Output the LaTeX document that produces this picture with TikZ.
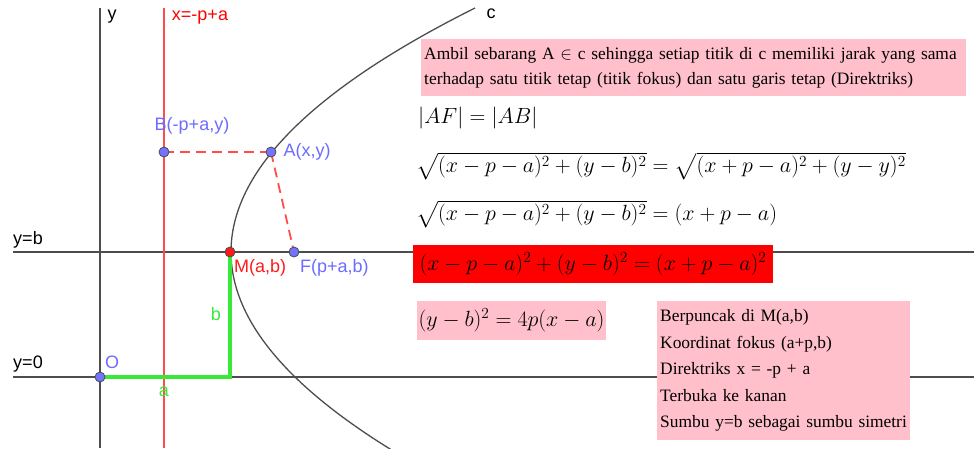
\documentclass[tikz,border=0pt]{standalone}
\usepackage{fix-cm}
\usepackage{amsmath}
\usepackage{amssymb}
\usepackage{fontspec}
\setmainfont{Liberation Serif}
\newfontfamily\labelfont{Liberation Sans}
\usepackage{xcolor}
\definecolor{axisgray}{HTML}{4d4d4d}
\definecolor{dirred}{HTML}{ff4d4d}
\definecolor{ptblue}{HTML}{7373ff}
\definecolor{lblblue}{HTML}{6b6bff}
\definecolor{boxpink}{HTML}{ffc0cb}
\definecolor{segreen}{HTML}{3ae83a}
\definecolor{vertexred}{HTML}{ff1a1a}
\usetikzlibrary{positioning, calc}

\begin{document}
\begin{tikzpicture}[x=1pt, y=-1pt,
  axis/.style={axisgray, line width=1.6pt},
  pt/.style={circle, draw=black!70, line width=0.8pt, inner sep=0pt, minimum size=10pt},
  lbl/.style={font=\labelfont\fontsize{18}{20}\selectfont, inner sep=1pt},
  pinkbox/.style={fill=boxpink, inner xsep=3pt, inner ysep=5pt, align=left},
  eq/.style={font=\fontsize{22}{26}\selectfont, inner sep=2pt},
  dist/.style={dirred, line width=1.8pt, dash pattern=on 10pt off 6pt}
]
\useasboundingbox (0,0) rectangle (974,448);

% Points
\coordinate (o) at (100,377);
\coordinate (m) at (230,252);
\coordinate (f) at (294,252);
\coordinate (a) at (271,152);
\coordinate (b) at (164,152);
\coordinate (k) at (230,377);

% Axes and lines
\draw[axis] (100,8) -- (100,448);
\draw[axis] (13,252) -- (974,252);
\draw[axis] (13,377) -- (974,377);
\draw[dirred, line width=1.6pt] (164,8) -- (164,448);
\draw[axisgray, line width=1.3pt] plot[domain=-1:0.81, samples=120, smooth] ({231+244*\x*\x},{252+244*\x});

% Distances
\draw[dist] (b) -- (a);
\draw[dist] (a) -- (f);
\draw[segreen, line width=4pt] (o) -- (k) -- (m);

\node[pt, fill=ptblue] (O) at (o) {};
\node[pt, fill=vertexred] (M) at (m) {};
\node[pt, fill=ptblue] (F) at (f) {};
\node[pt, fill=ptblue] (A) at (a) {};
\node[pt, fill=ptblue] (B) at (b) {};

% Labels
\node[lbl] at (112,17) {y};
\node[lbl, text=red] at (200,17) {x=-p+a};
\node[lbl] at (491,14) {c};
\node[lbl] at (28,240) {y=b};
\node[lbl] at (28,364) {y=0};
\node[lbl, text=lblblue] at (112,362) {O};
\node[lbl, text=lblblue, right=6pt of A] {A(x,y)};
\node[lbl, text=lblblue] at (192,126) {B(-p+a,y)};
\node[lbl, text=vertexred, anchor=west] at (233,268) {M(a,b)};
\node[lbl, text=lblblue, anchor=west] at (299,268) {F(p+a,b)};
\node[lbl, text=segreen] at (164,392) {a};
\node[lbl, text=segreen] at (216,314) {b};

% Text
\node[pinkbox, anchor=north west, text width=539pt, minimum height=57pt,
  font=\fontsize{17.4}{25.5}\selectfont] (def) at (421,39)
  {Ambil sebarang A $\in$ c sehingga setiap titik di c memiliki jarak yang sama\\
   terhadap satu titik tetap (titik fokus) dan satu garis tetap (Direktriks)};
\node[eq, anchor=west] (eq1) at (416,118) {$|AF|=|AB|$};
\node[eq, anchor=west] (eq2) at (414,166) {$\sqrt{(x-p-a)^2+(y-b)^2}=\sqrt{(x+p-a)^2+(y-y)^2}$};
\node[eq, anchor=west] (eq3) at (414,214) {$\sqrt{(x-p-a)^2+(y-b)^2}=(x+p-a)$};
\node[eq, fill=red, minimum width=360pt, minimum height=38pt] (eq4) at (593,264)
  {$(x-p-a)^2+(y-b)^2=(x+p-a)^2$};
\node[eq, fill=boxpink, minimum width=187pt, minimum height=39pt] (eq5) at (511.5,320.5)
  {$(y-b)^2=4p(x-a)$};
\node[pinkbox, anchor=north west, text width=247pt, minimum height=139pt,
  font=\fontsize{17.4}{26.5}\selectfont] (sifat) at (657,301)
  {Berpuncak di M(a,b)\\
   Koordinat fokus (a+p,b)\\
   Direktriks x = -p + a\\
   Terbuka ke kanan\\
   Sumbu y=b sebagai sumbu simetri};
\end{tikzpicture}
\end{document}
